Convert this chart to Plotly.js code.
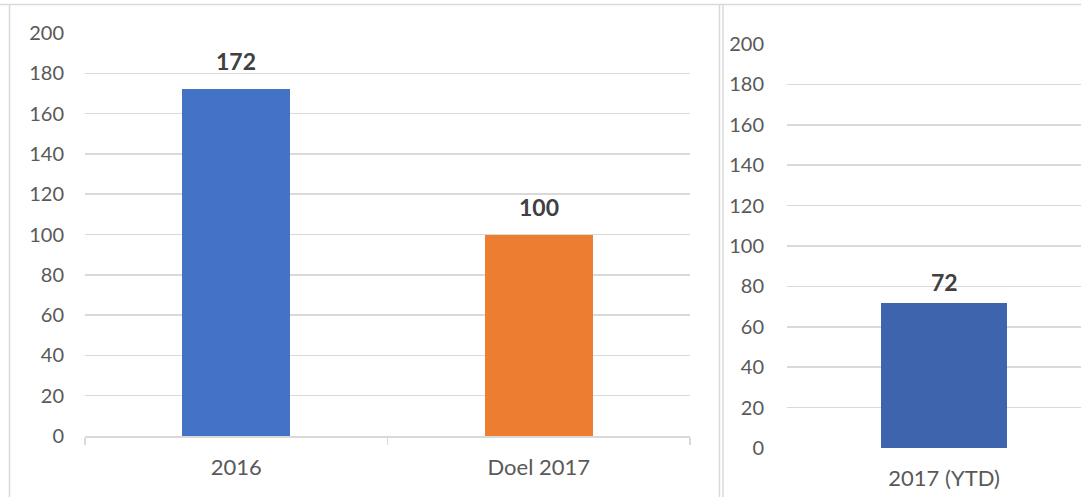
<!DOCTYPE html>
<html>
<head>
<meta charset="utf-8">
<script src="https://cdn.plot.ly/plotly-3.0.1.min.js"></script>
<style>
  html, body { margin: 0; padding: 0; background: #fff; }
  #chart { width: 1081px; height: 497px; }
</style>
</head>
<body>
<div id="chart"></div>
<script>
// left chart: 2016 vs target
var leftCats = ['2016', 'Doel 2017'];
var leftVals = [172, 100];
var leftColors = ['#4472C4', '#ED7D31'];

// right chart: year to date
var rightCats = ['2017 (YTD)'];
var rightVals = [72];

var yTicks = [0, 20, 40, 60, 80, 100, 120, 140, 160, 180, 200];

var W = 1081, H = 497;
var grid = '#d9d9d9';
var tickFont = {family: 'Lato, "Open Sans", sans-serif', size: 20, color: '#595959'};
var catFont = {family: 'Lato, "Open Sans", sans-serif', size: 22, color: '#595959'};
var labelFont = {family: 'Lato, "Open Sans", sans-serif', size: 23, color: '#404040', weight: 'bold'};

var traces = [
  {
    type: 'bar', x: leftCats, y: leftVals, width: 0.357,
    marker: {color: leftColors}, xaxis: 'x', yaxis: 'y',
    hoverinfo: 'x+y'
  },
  {
    type: 'bar', x: rightCats, y: rightVals, width: 0.40,
    marker: {color: '#3D64AC'}, xaxis: 'x2', yaxis: 'y2',
    hoverinfo: 'x+y'
  }
];

// data labels on top of bars (x by category index, '2016' would be read as a number)
var annots = [];
leftCats.forEach(function(c, i) {
  annots.push({
    xref: 'x', yref: 'y', x: i, y: leftVals[i], text: '<b>' + leftVals[i] + '</b>',
    showarrow: false, yanchor: 'bottom', yshift: 12, font: labelFont
  });
});
rightCats.forEach(function(c, i) {
  annots.push({
    xref: 'x2', yref: 'y2', x: i, y: rightVals[i], text: '<b>' + rightVals[i] + '</b>',
    showarrow: false, yanchor: 'bottom', yshift: 5, font: labelFont
  });
});

// chart frames
var line = {color: grid, width: 1.5};
var shapes = [
  {type: 'line', xref: 'paper', yref: 'paper', x0: 0, x1: 1, y0: 1 - 4.5 / H, y1: 1 - 4.5 / H, line: line},
  {type: 'line', xref: 'paper', yref: 'paper', x0: 9.5 / W, x1: 9.5 / W, y0: 0, y1: 1 - 4.5 / H, line: line},
  {type: 'line', xref: 'paper', yref: 'paper', x0: 719.5 / W, x1: 719.5 / W, y0: 0, y1: 1 - 4.5 / H, line: line},
  {type: 'line', xref: 'paper', yref: 'paper', x0: 723 / W, x1: 723 / W, y0: 0, y1: 1 - 4.5 / H, line: line}
];

var layout = {
  width: W, height: H,
  margin: {l: 0, r: 0, t: 0, b: 0},
  paper_bgcolor: '#fff', plot_bgcolor: 'rgba(0,0,0,0)',
  showlegend: false,
  bargap: 0,
  xaxis: {
    domain: [85 / W, 690 / W], type: 'category', range: [-0.5, 1.5],
    showline: true, linecolor: grid, linewidth: 1.5,
    ticks: 'outside', tickson: 'boundaries', ticklen: 7, tickcolor: grid, tickwidth: 1.5,
    showgrid: false, tickfont: catFont, ticklabelstandoff: 11, fixedrange: true
  },
  yaxis: {
    domain: [(H - 436) / H, (H - 33) / H], range: [0, 200], tickvals: yTicks,
    showgrid: true, gridcolor: grid, gridwidth: 1.5, zeroline: false,
    tickfont: tickFont, ticklabelstandoff: 20, fixedrange: true
  },
  xaxis2: {
    domain: [787 / W, 1], type: 'category', range: [-0.5, 0.436], anchor: 'y2',
    showline: false, ticks: '', showgrid: false, tickfont: catFont,
    ticklabelstandoff: 15, fixedrange: true
  },
  yaxis2: {
    domain: [(H - 448) / H, (H - 44) / H], range: [0, 200], tickvals: yTicks, anchor: 'x2',
    showgrid: true, gridcolor: grid, gridwidth: 1.5, zeroline: false,
    tickfont: tickFont, ticklabelstandoff: 22, fixedrange: true
  },
  annotations: annots,
  shapes: shapes
};

Plotly.newPlot('chart', traces, layout, {displayModeBar: false, staticPlot: true});
</script>
</body>
</html>
